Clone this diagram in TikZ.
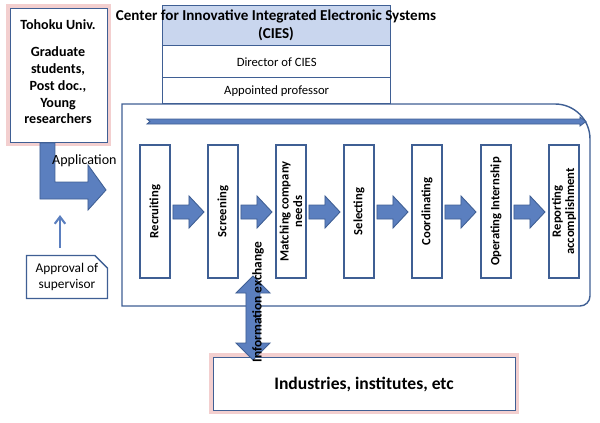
\documentclass[tikz,border=0pt]{standalone}
\usepackage{fontspec}
\setmainfont{Carlito}
\usetikzlibrary{shapes.arrows,shapes.geometric,shapes.misc,arrows.meta}
\definecolor{bd}{HTML}{3F5F94}
\definecolor{af}{HTML}{5B7FBF}
\definecolor{hb}{HTML}{C9D6EE}
\definecolor{gl}{HTML}{E8A0A0}
\begin{document}
\begin{tikzpicture}[x=0.02cm,y=-0.02cm,
  box/.style={draw=bd,line width=0.8pt,fill=white},
  stepbox/.style={box,minimum width=0.6cm,minimum height=2.66cm,inner sep=0pt},
  steptxt/.style={rotate=90,font=\bfseries\fontsize{7.2}{7.6}\selectfont,align=center},
  glow/.style={draw=gl,line width=5pt,opacity=0.5}]
\useasboundingbox (0,0) rectangle (600,423);
% Tohoku
\draw[glow] (10,8) rectangle (107,142);
\node[box,minimum width=1.94cm,minimum height=2.68cm,anchor=north west] (tu) at (10,8) {};
\node[font=\bfseries\fontsize{8}{9.6}\selectfont,align=center,anchor=north] (tut) at (58,13) {Tohoku Univ.\\[6pt]Graduate\\students,\\Post doc.,\\Young\\researchers};
% CIES
\node[box,fill=hb,minimum width=4.56cm,minimum height=0.8cm,anchor=north west,inner sep=0pt] (c1) at (162,5) {};
\node[font=\bfseries\fontsize{8.6}{10.4}\selectfont,align=center] (c1t) at (276,25) {Center for Innovative Integrated Electronic Systems\\(CIES)};
\node[box,minimum width=4.56cm,minimum height=0.64cm,anchor=north west,inner sep=0pt,font=\fontsize{7.2}{8}\selectfont] (c2) at (162,45) {Director of CIES};
\node[box,minimum width=4.56cm,minimum height=0.52cm,anchor=north west,inner sep=0pt,font=\fontsize{7.2}{8}\selectfont] (c3) at (162,77) {Appointed professor};
% big box
\draw[bd,line width=0.8pt,fill=white] (122,104) -- (555,104) to[out=0,in=90] (590,139) -- (590,296) to[out=-90,in=0] (580,306) -- (122,306) -- cycle;
\draw[bd,line width=0.5pt,fill=af] (147,119) -- (580,119) -- (580,117) -- (586,121.5) -- (580,126) -- (580,124) -- (147,124) -- (150,121.5) -- cycle;
% steps
\foreach \n/\x/\t in {s1/155/Recruiting,s2/223/Screening,s3/291/Matching company\\needs,s4/359/Selecting,s5/427/Coordinating,s6/496/Operating Internship,s7/564/Reporting\\accomplishment}{
  \node[stepbox] (\n) at (\x,211.5) {};
  \node[steptxt] at (\x,211.5) {\t};
}
\foreach \x in {173,241,309,377,445,514}{
  \draw[bd,line width=0.5pt,fill=af] (\x,205) -- (\x+16,205) -- (\x+16,196) -- (\x+31,212) -- (\x+16,228) -- (\x+16,219) -- (\x,219) -- cycle;
}
% application arrow
\draw[bd,line width=0.5pt,fill=af] (40,143) -- (55,143) -- (55,182) -- (88,182) -- (88,165) -- (106,190) -- (88,210) -- (88,199) -- (40,199) -- cycle;
\node[font=\fontsize{8}{9}\selectfont,anchor=west] (app) at (46,161) {Application};
% approval
\node[draw=bd,line width=0.8pt,fill=white,chamfered rectangle,chamfered rectangle corners=north east,chamfered rectangle xsep=4pt,minimum width=1.62cm,minimum height=0.86cm,inner sep=1pt,align=center,font=\fontsize{7.6}{9}\selectfont] (ap) at (67,277) {Approval of\\supervisor};
\draw[-{Straight Barb[length=4pt,width=6pt]},af,line width=1.2pt] (60,248) -- (60,215);
% industries
\draw[glow] (213,357) rectangle (515,410);
\node[box,minimum width=6.04cm,minimum height=1.06cm,anchor=north west] (ind) at (213,357) {};
\node[font=\bfseries\fontsize{10}{11}\selectfont] at (364,385) {Industries, institutes, etc};
% info exchange
\draw[bd,line width=0.5pt,fill=af] (246,293) -- (246,343) -- (236,343) -- (253,360) -- (270,343) -- (260,343) -- (260,293) -- (270,293) -- (253,276) -- (236,293) -- cycle;
\node[rotate=90,font=\bfseries\fontsize{7.6}{8}\selectfont] (ie) at (258,302) {Information exchange};
\end{tikzpicture}
\end{document}
